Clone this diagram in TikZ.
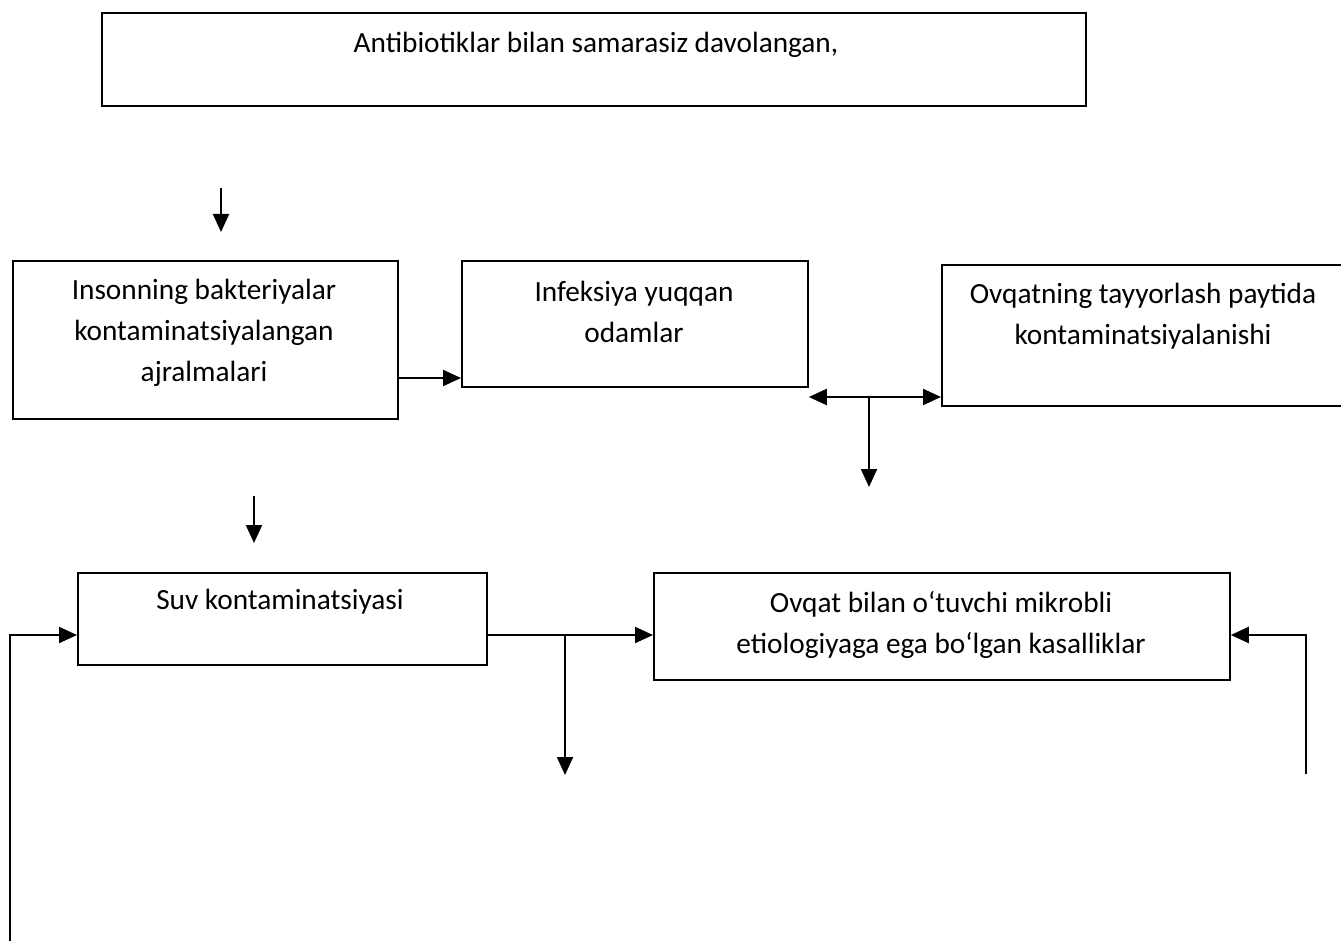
\documentclass[tikz,border=0pt]{standalone}
\usepackage{fontspec}
\setmainfont{Carlito}
\usetikzlibrary{arrows.meta}
\begin{document}
\begin{tikzpicture}[x=1pt,y=-1pt,
  box/.style={draw, line width=1.8pt, inner sep=0pt, anchor=north west},
  txt/.style={align=center, font=\fontsize{29.3}{41}\selectfont, inner sep=0pt},
  arr/.style={line width=2.2pt, -{Triangle[length=18pt,width=16pt]}}]
\useasboundingbox (0,0) rectangle (1341,941);
% boxes
\node[box, minimum width=984pt, minimum height=93pt] (top) at (101,12) {};
\node[box, minimum width=385pt, minimum height=158pt] (ins) at (12,260) {};
\node[box, minimum width=346pt, minimum height=126pt] (inf) at (461,260) {};
\node[box, minimum width=402pt, minimum height=141pt] (ovq) at (941,264) {};
\node[box, minimum width=409pt, minimum height=92pt] (suv) at (77,572) {};
\node[box, minimum width=576pt, minimum height=107pt] (kas) at (653,572) {};
% texts
\node[txt] (toptxt) at (596,45) {Antibiotiklar bilan samarasiz davolangan,};
\node[txt] (instxt) at (204,333) {Insonning bakteriyalar\\kontaminatsiyalangan\\ajralmalari};
\node[txt] (inftxt) at (634,312) {Infeksiya yuqqan\\odamlar};
\node[txt] (ovqtxt) at (1143,316) {Ovqatning tayyorlash paytida\\kontaminatsiyalanishi};
\node[txt] (suvtxt) at (280,602) {Suv kontaminatsiyasi};
\node[txt] (kastxt) at (941,625) {Ovqat bilan o‘tuvchi mikrobli\\etiologiyaga ega bo‘lgan kasalliklar};
% connectors
\coordinate (a1s) at (221,188); \coordinate (a1e) at (221,232);
\draw[arr] (a1s) -- (a1e);
\draw[arr] (ins.east |- 0,378) -- (inf.west |- 0,378);
\coordinate (j1) at (869,397);
\draw[arr] (j1) -- (ovq.west |- j1);
\draw[arr] (j1) -- (inf.east |- j1);
\coordinate (d1) at (869,487);
\draw[arr] (j1) -- (d1);
\coordinate (a2s) at (254,496); \coordinate (a2e) at (254,543);
\draw[arr] (a2s) -- (a2e);
\coordinate (l0) at (10,941);
\draw[arr] (l0) |- (suv.west |- 0,635);
\draw[arr] (suv.east |- 0,635) -- (kas.west |- 0,635);
\coordinate (j2) at (565,635); \coordinate (d2) at (565,775);
\draw[arr] (j2) -- (d2);
\coordinate (r0) at (1306,774);
\draw[arr] (r0) |- (kas.east |- 0,635);
\end{tikzpicture}
\end{document}
